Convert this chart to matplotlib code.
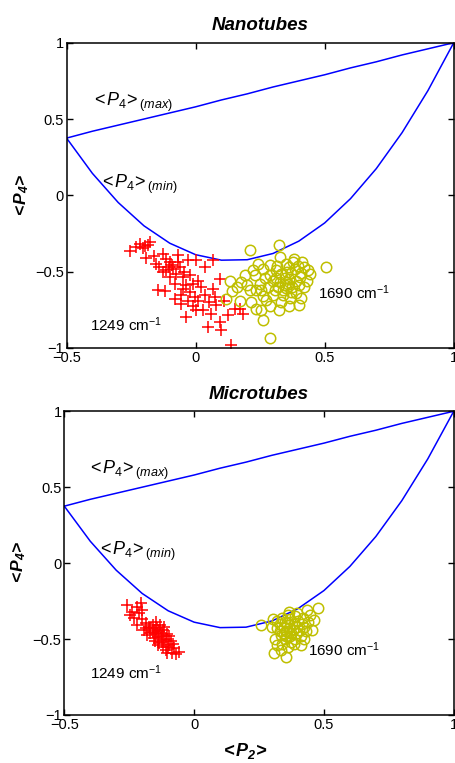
import matplotlib
matplotlib.use("Agg")
import matplotlib.pyplot as plt
import numpy as np

plt.rcParams['font.family'] = ['Liberation Sans', 'DejaVu Sans']
plt.rcParams['mathtext.fontset'] = 'custom'
plt.rcParams['mathtext.rm'] = 'Liberation Sans'
plt.rcParams['mathtext.it'] = 'Liberation Sans:italic'
plt.rcParams['mathtext.bf'] = 'Liberation Sans:bold:italic'

# bound curves
p2_grid = [-0.5, -0.4, -0.3, -0.2, -0.1, 0.0, 0.1, 0.2, 0.3, 0.4, 0.5, 0.6, 0.7, 0.8, 0.9, 1.0]
p4_max = [0.375, 0.42, 0.46, 0.50, 0.54, 0.58, 0.625, 0.665, 0.71, 0.75, 0.79, 0.835, 0.875, 0.92, 0.96, 1.0]
p4_min = [0.375, 0.144, -0.047, -0.200, -0.314, -0.389, -0.425, -0.422, -0.381, -0.300, -0.181,
          -0.022, 0.175, 0.411, 0.686, 1.0]

# Nanotubes, 1249 cm-1 (red +)
nano_1249 = [
    (-0.256, -0.367), (-0.214, -0.317), (-0.198, -0.334), (-0.178, -0.306), (-0.185, -0.328),
    (-0.205, -0.345), (-0.194, -0.409), (-0.152, -0.448), (-0.127, -0.382), (-0.114, -0.415),
    (-0.101, -0.437), (-0.069, -0.393), (-0.030, -0.422), (0.000, -0.426), (-0.140, -0.470),
    (-0.114, -0.492), (-0.088, -0.481), (-0.075, -0.513), (-0.101, -0.536), (-0.049, -0.536),
    (-0.081, -0.579), (-0.036, -0.590), (-0.146, -0.623), (-0.120, -0.627), (-0.049, -0.612),
    (-0.055, -0.656), (-0.081, -0.678), (-0.023, -0.634), (-0.004, -0.667), (-0.055, -0.710),
    (-0.010, -0.728), (-0.039, -0.798), (0.003, -0.754), (0.035, -0.470), (0.067, -0.426),
    (0.093, -0.546), (0.067, -0.612), (0.035, -0.656), (0.074, -0.667), (0.028, -0.754),
    (0.061, -0.776), (0.125, -0.787), (0.171, -0.743), (0.183, -0.776), (0.151, -0.743),
    (0.093, -0.831), (0.048, -0.864), (0.100, -0.885), (0.138, -0.984), (-0.090, -0.455),
    (-0.060, -0.470), (-0.125, -0.505), (-0.105, -0.470), (-0.070, -0.440), (-0.045, -0.500),
    (-0.020, -0.520), (0.010, -0.560), (0.020, -0.600), (-0.010, -0.580), (0.050, -0.700),
    (0.010, -0.690), (-0.030, -0.690), (0.080, -0.720), (0.110, -0.690), (-0.160, -0.400),
    (-0.230, -0.340),
]

# Nanotubes, 1690 cm-1 (yellow o)
nano_1690 = [
    (0.209, -0.356), (0.323, -0.323), (0.504, -0.470), (0.134, -0.562), (0.177, -0.568),
    (0.142, -0.627), (0.119, -0.682), (0.171, -0.693), (0.222, -0.492), (0.242, -0.448),
    (0.261, -0.481), (0.287, -0.459), (0.326, -0.404), (0.351, -0.448), (0.377, -0.437),
    (0.414, -0.437), (0.436, -0.492), (0.442, -0.513), (0.403, -0.536), (0.313, -0.492),
    (0.332, -0.513), (0.209, -0.623), (0.235, -0.623), (0.255, -0.623), (0.306, -0.623),
    (0.338, -0.623), (0.371, -0.634), (0.326, -0.568), (0.358, -0.579), (0.409, -0.671),
    (0.401, -0.721), (0.362, -0.728), (0.323, -0.750), (0.287, -0.728), (0.255, -0.754),
    (0.235, -0.743), (0.261, -0.815), (0.287, -0.933), (0.216, -0.700), (0.274, -0.689),
    (0.360, -0.470), (0.385, -0.480), (0.370, -0.510), (0.345, -0.540), (0.390, -0.560),
    (0.375, -0.600), (0.350, -0.610), (0.320, -0.600), (0.300, -0.560), (0.290, -0.520),
    (0.270, -0.540), (0.250, -0.580), (0.230, -0.520), (0.340, -0.650), (0.365, -0.670),
    (0.390, -0.640), (0.420, -0.600), (0.430, -0.560), (0.400, -0.590), (0.355, -0.500),
    (0.380, -0.420), (0.395, -0.460), (0.300, -0.650), (0.280, -0.600), (0.330, -0.700),
    (0.310, -0.540), (0.420, -0.470), (0.345, -0.590), (0.360, -0.550), (0.315, -0.460),
    (0.200, -0.590), (0.190, -0.520), (0.160, -0.600), (0.260, -0.660), (0.410, -0.510),
]

# Microtubes, 1249 cm-1
micro_1249 = [
    (-0.258, -0.276), (-0.206, -0.261), (-0.238, -0.320), (-0.213, -0.331), (-0.200, -0.309),
    (-0.245, -0.342), (-0.219, -0.408), (-0.187, -0.397), (-0.174, -0.419), (-0.148, -0.386),
    (-0.142, -0.430), (-0.168, -0.463), (-0.129, -0.463), (-0.155, -0.496), (-0.116, -0.507),
    (-0.136, -0.529), (-0.097, -0.539), (-0.110, -0.572), (-0.059, -0.583), (-0.078, -0.561),
    (-0.180, -0.474), (-0.194, -0.441), (-0.160, -0.410), (-0.150, -0.440), (-0.135, -0.450),
    (-0.125, -0.480), (-0.140, -0.490), (-0.160, -0.455), (-0.120, -0.440), (-0.105, -0.470),
    (-0.110, -0.500), (-0.090, -0.510), (-0.125, -0.520), (-0.100, -0.555), (-0.080, -0.530),
    (-0.145, -0.470), (-0.170, -0.430), (-0.130, -0.405), (-0.115, -0.420), (-0.095, -0.480),
    (-0.150, -0.510), (-0.120, -0.550), (-0.085, -0.595), (-0.070, -0.600), (-0.220, -0.290),
    (-0.230, -0.360), (-0.200, -0.370), (-0.185, -0.430), (-0.140, -0.540), (-0.105, -0.590),
]

# Microtubes, 1690 cm-1
micro_1690 = [
    (0.259, -0.408), (0.302, -0.371), (0.366, -0.320), (0.398, -0.331), (0.434, -0.309),
    (0.477, -0.298), (0.462, -0.375), (0.456, -0.441), (0.321, -0.430), (0.334, -0.474),
    (0.321, -0.539), (0.308, -0.594), (0.353, -0.620), (0.411, -0.539), (0.372, -0.518),
    (0.398, -0.463), (0.423, -0.419), (0.359, -0.397), (0.340, -0.360), (0.350, -0.390),
    (0.370, -0.370), (0.385, -0.400), (0.400, -0.380), (0.420, -0.360), (0.440, -0.390),
    (0.430, -0.450), (0.410, -0.480), (0.390, -0.500), (0.370, -0.480), (0.355, -0.450),
    (0.345, -0.420), (0.330, -0.400), (0.365, -0.430), (0.380, -0.440), (0.395, -0.420),
    (0.350, -0.500), (0.340, -0.530), (0.360, -0.550), (0.385, -0.530), (0.335, -0.570),
    (0.375, -0.460), (0.415, -0.400), (0.445, -0.340), (0.390, -0.350), (0.360, -0.340),
    (0.320, -0.380), (0.405, -0.440), (0.355, -0.480), (0.330, -0.450), (0.300, -0.420),
    (0.345, -0.460), (0.425, -0.500), (0.310, -0.500),
]

xticks = [-0.5, 0, 0.5, 1]
xticklabels = ['\u22120.5', '0', '0.5', '1']
yticks = [-1, -0.5, 0, 0.5, 1]
yticklabels = ['\u22121', '\u22120.5', '0', '0.5', '1']

red = '#ff0000'
yel = '#bfbf00'
blue = '#0000ff'

fig = plt.figure(figsize=(4.56, 7.63), dpi=100)
ax1 = fig.add_axes([0.146, 0.544, 0.849, 0.400])
ax2 = fig.add_axes([0.141, 0.063, 0.854, 0.398])

panels = [
    (ax1, 'Nanotubes', nano_1249, nano_1690,
     (-0.40, 0.61), (-0.37, 0.07), (-0.41, -0.85), (0.475, -0.64)),
    (ax2, 'Microtubes', micro_1249, micro_1690,
     (-0.41, 0.61), (-0.37, 0.08), (-0.40, -0.72), (0.44, -0.57)),
]

for ax, title, reds, yels, pmax, pmin, p1249, p1690 in panels:
    ax.plot(p2_grid, p4_max, color=blue, lw=1.1)
    ax.plot(p2_grid, p4_min, color=blue, lw=1.1)
    r = np.array(reds)
    yv = np.array(yels)
    ax.plot(r[:, 0], r[:, 1], '+', color=red, ms=8, mew=1.1)
    ax.plot(yv[:, 0], yv[:, 1], 'o', mfc='none', mec=yel, ms=7.5, mew=1.1)

    ax.text(pmax[0], pmax[1], r'$<\!P_4\!>_{(max)}$', fontsize=13, va='center')
    ax.text(pmin[0], pmin[1], r'$<\!P_4\!>_{(min)}$', fontsize=13, va='center')
    ax.text(p1249[0], p1249[1], '1249 cm$^{-1}$', fontsize=11, va='center')
    ax.text(p1690[0], p1690[1], '1690 cm$^{-1}$', fontsize=11, va='center')

    ax.set_xlim(-0.5, 1)
    ax.set_ylim(-1, 1)
    ax.set_xticks(xticks)
    ax.set_xticklabels(xticklabels)
    ax.set_yticks(yticks)
    ax.set_yticklabels(yticklabels)
    ax.tick_params(direction='in', top=True, right=True, length=4, width=1,
                   labelsize=10.5, pad=2)
    for s in ax.spines.values():
        s.set_linewidth(1.1)
    ax.set_title(title, fontsize=13.5, fontweight='bold', fontstyle='italic', pad=9)
    ax.set_ylabel(r'$\mathbf{<\!P_4\!>}$', fontsize=12.5, labelpad=3)

ax2.set_xlabel(r'$\mathbf{<\!P_2\!>}$', fontsize=13, labelpad=4)
ax2.xaxis.set_label_coords(0.463, -0.085)

fig.savefig('out.png', dpi=100)
